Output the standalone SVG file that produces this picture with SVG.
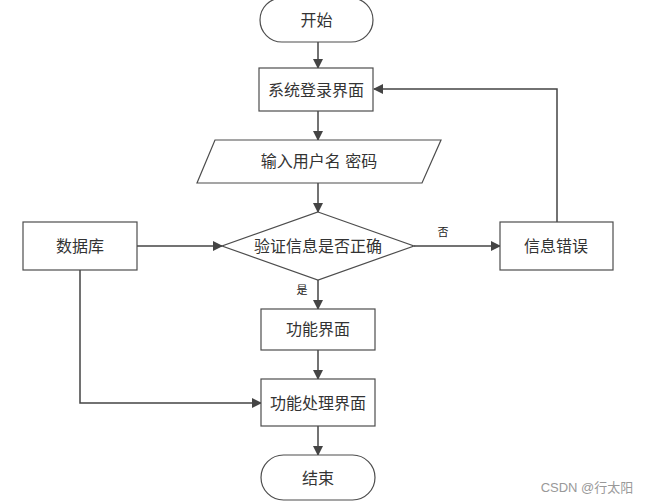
<svg xmlns="http://www.w3.org/2000/svg" width="651" height="504" viewBox="0 0 651 504">
<style>
.s{fill:#fff;stroke:#4d4d4d;stroke-width:1.2}
.t{font-family:"Liberation Sans","Noto Sans CJK SC",sans-serif;font-size:16px;fill:#333;text-anchor:middle;dominant-baseline:central}
.l{font-family:"Liberation Sans","Noto Sans CJK SC",sans-serif;font-size:11px;fill:#222;text-anchor:middle;dominant-baseline:central}
.c{fill:none;stroke:#444;stroke-width:1.5}
</style>
<defs>
<marker id="a" markerWidth="10" markerHeight="10" refX="9" refY="5" orient="auto" markerUnits="userSpaceOnUse">
<path d="M0,0 L10,5 L0,10 Z" fill="#444"/>
</marker>
</defs>
<rect width="651" height="504" fill="#fff"/>
<g id="connectors">
<line class="c" x1="318" y1="42" x2="318" y2="68" marker-end="url(#a)"/>
<line class="c" x1="318" y1="111" x2="318" y2="140" marker-end="url(#a)"/>
<line class="c" x1="318" y1="183" x2="318" y2="212" marker-end="url(#a)"/>
<line class="c" x1="137" y1="246" x2="222" y2="246" marker-end="url(#a)"/>
<line class="c" x1="414" y1="246" x2="500" y2="246" marker-end="url(#a)"/>
<polyline class="c" points="557,222 557,89 374,89" marker-end="url(#a)"/>
<line class="c" x1="318" y1="280" x2="318" y2="309" marker-end="url(#a)"/>
<line class="c" x1="318" y1="350" x2="318" y2="379" marker-end="url(#a)"/>
<polyline class="c" points="80,270 80,403 261,403" marker-end="url(#a)"/>
<line class="c" x1="318" y1="426" x2="318" y2="455" marker-end="url(#a)"/>
<text class="l" x="443" y="232">否</text>
<text class="l" x="302" y="290">是</text>
</g>
<g id="start">
<rect class="s" x="260" y="-2" width="113" height="44" rx="22"/>
<text class="t" x="316.5" y="20">开始</text>
</g>
<g id="login">
<rect class="s" x="259" y="68" width="114" height="43"/>
<text class="t" x="316" y="90">系统登录界面</text>
</g>
<g id="input">
<polygon class="s" points="215,140 441,140 422,183 197,183"/>
<text class="t" x="319" y="161">输入用户名 密码</text>
</g>
<g id="verify">
<polygon class="s" points="318,212 414,246 318,280 222,246"/>
<text class="t" x="318" y="246">验证信息是否正确</text>
</g>
<g id="db">
<rect class="s" x="23" y="222" width="114" height="48"/>
<text class="t" x="80" y="246">数据库</text>
</g>
<g id="error">
<rect class="s" x="500" y="222" width="113" height="48"/>
<text class="t" x="556" y="246">信息错误</text>
</g>
<g id="func">
<rect class="s" x="261" y="309" width="114" height="41"/>
<text class="t" x="318" y="329">功能界面</text>
</g>
<g id="process">
<rect class="s" x="261" y="379" width="114" height="47"/>
<text class="t" x="318" y="403">功能处理界面</text>
</g>
<g id="end">
<rect class="s" x="261" y="455" width="114" height="45" rx="22.5"/>
<text class="t" x="318" y="478">结束</text>
</g>
<text x="587" y="487" font-family="Liberation Sans,Noto Sans CJK SC,sans-serif" font-size="13" fill="#999" text-anchor="middle" dominant-baseline="central">CSDN @行太阳</text>
</svg>
